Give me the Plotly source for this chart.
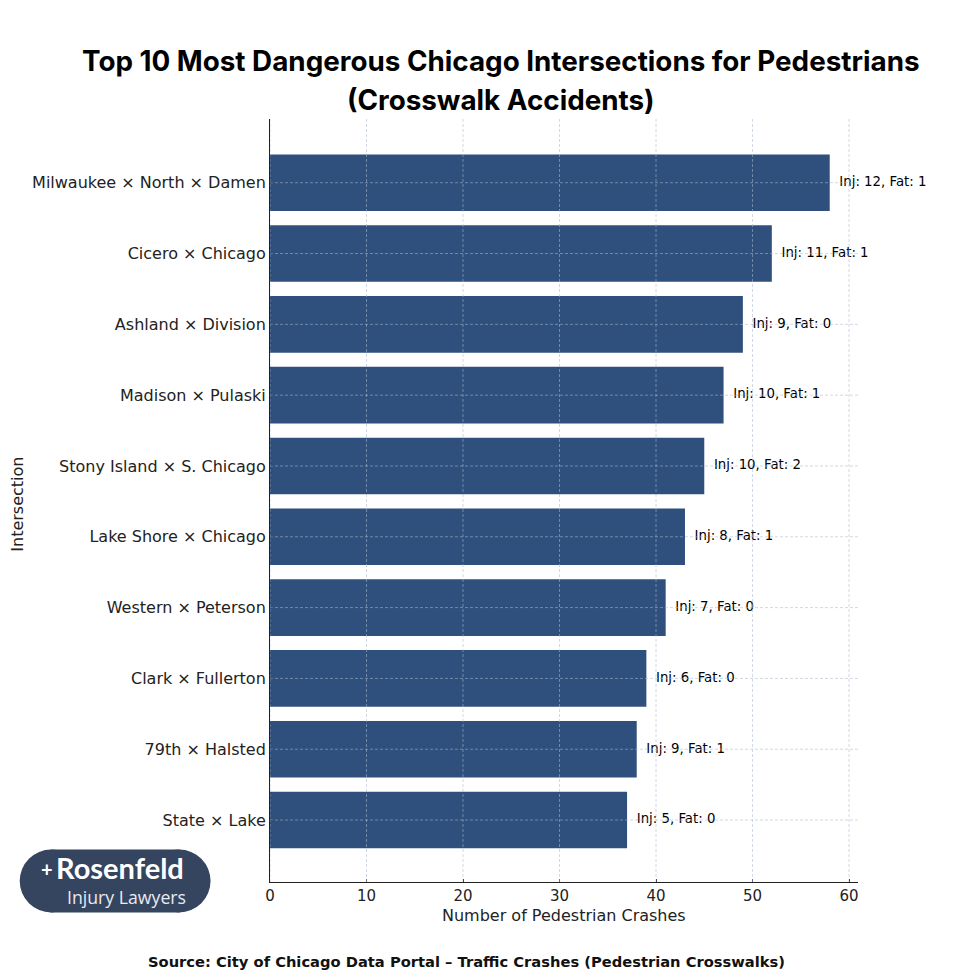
import plotly.graph_objects as go

intersections = ["State × Lake", "79th × Halsted", "Clark × Fullerton", "Western × Peterson",
                 "Lake Shore × Chicago", "Stony Island × S. Chicago", "Madison × Pulaski",
                 "Ashland × Division", "Cicero × Chicago", "Milwaukee × North × Damen"]
crashes = [37, 38, 39, 41, 43, 45, 47, 49, 52, 58]
injuries = [5, 9, 6, 7, 8, 10, 10, 9, 11, 12]
fatalities = [0, 1, 0, 0, 1, 2, 1, 0, 1, 1]
x_ticks = [0, 10, 20, 30, 40, 50, 60]

labels = [f"Inj: {i}, Fat: {f}" for i, f in zip(injuries, fatalities)]

# page has an 8px body margin, so picture pixels are shifted by 8
W, H = 980, 980
OFF = 8
L, R, T, B = 269.5 - OFF, 858 - OFF, 118.5 - OFF, 882.5 - OFF


def px(x):
    return (x - OFF - L) / (R - L)


def py(y):
    return 1 - (y - OFF - T) / (B - T)


GRID = "rgba(170,185,205,0.55)"
LOGO = "#35445f"

fig = go.Figure()
fig.add_trace(go.Bar(y=intersections, x=crashes, orientation="h", width=0.8,
                     marker=dict(color="#2f4f7c", line=dict(width=0)),
                     showlegend=False))
# labels sit one unit past the bar end
fig.add_trace(go.Scatter(y=intersections, x=[c + 1 for c in crashes], mode="text", text=labels,
                         textposition="middle right", cliponaxis=False,
                         textfont=dict(family="DejaVu Sans", size=13.3, color="black"),
                         showlegend=False))

# grid goes over the bars in the original
for v in x_ticks:
    fig.add_shape(type="line", xref="x", yref="paper", x0=v, x1=v, y0=0, y1=1, layer="above",
                  line=dict(color=GRID, width=1, dash="3px,2px"))
for name in intersections:
    fig.add_shape(type="line", xref="paper", yref="y", x0=0, x1=1, y0=name, y1=name, layer="above",
                  line=dict(color=GRID, width=1, dash="3px,2px"))

# logo pill
fig.add_shape(type="rect", xref="paper", yref="paper", x0=px(50), x1=px(179), y0=py(913), y1=py(850),
              fillcolor=LOGO, line=dict(width=0), layer="below")
fig.add_shape(type="circle", xref="paper", yref="paper", x0=px(19), x1=px(82), y0=py(913), y1=py(850),
              fillcolor=LOGO, line=dict(width=0), layer="below")
fig.add_shape(type="circle", xref="paper", yref="paper", x0=px(147), x1=px(210), y0=py(913), y1=py(850),
              fillcolor=LOGO, line=dict(width=0), layer="below")


def note(text, x, y, size, family="DejaVu Sans", color="black", **kw):
    fig.add_annotation(text=text, xref="paper", yref="paper", x=px(x), y=py(y), showarrow=False,
                       xanchor="center", yanchor="middle",
                       font=dict(family=family, size=size, color=color), **kw)


note("<b>Top 10 Most Dangerous Chicago Intersections for Pedestrians</b>", 501, 60, 27.8, "Inter")
note("<b>(Crosswalk Accidents)</b>", 501, 99, 27.8, "Inter")
note("<b>Source: City of Chicago Data Portal – Traffic Crashes (Pedestrian Crosswalks)</b>", 466, 962, 14.7,
     color="#111111")
note("Number of Pedestrian Crashes", 564, 916, 16, color="#222222")
note("Intersection", 17, 504, 16, color="#222222", textangle=-90)
note("<b>+</b>", 46, 869, 20, "Lato", "white")
note("<b>Rosenfeld</b>", 119, 868, 29, "Lato", "white")
note("Injury Lawyers", 126, 898, 17.7, "Open Sans", "#e8ebf0")

fig.update_layout(
    width=W, height=H, autosize=False,
    paper_bgcolor="white", plot_bgcolor="white",
    margin=dict(l=L, r=W - R, t=T, b=H - B),
    font=dict(family="DejaVu Sans", color="#222222"),
)
fig.update_xaxes(range=[0, 60.93], tickvals=x_ticks, showline=True, linecolor="#222222", ticks="inside",
                 ticklen=3, tickcolor="#222222", tickfont=dict(size=15), showgrid=False, zeroline=False,
                 automargin=False)
fig.update_yaxes(showline=True, linecolor="#222222", ticks="inside", ticklen=3, tickcolor="#222222",
                 tickfont=dict(size=16), showgrid=False, range=[-0.875, 9.9], automargin=False,
                 ticklabelstandoff=0)

fig.write_html("out.html")
